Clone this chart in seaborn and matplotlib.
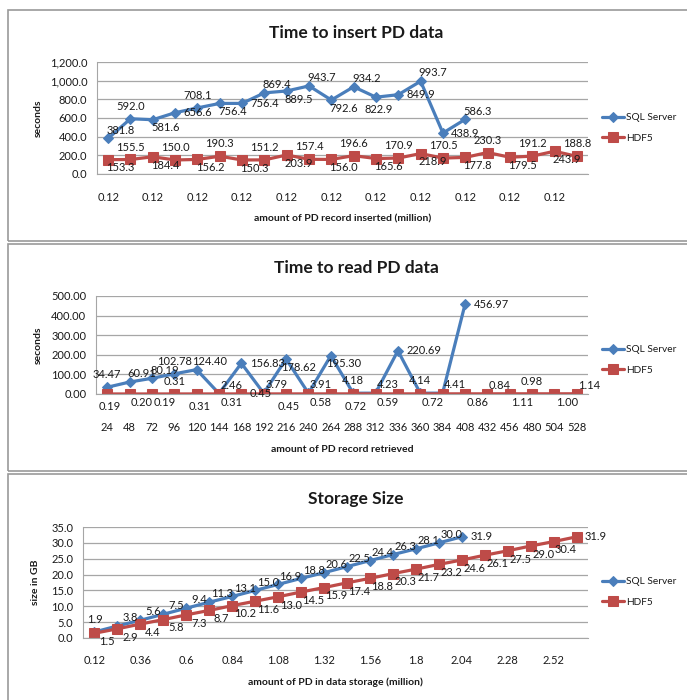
import pandas as pd
import seaborn as sns
import matplotlib.pyplot as plt
from matplotlib.patches import Rectangle
from matplotlib.ticker import FuncFormatter

# ---- data ----
insert_sql = [381.8, 592.0, 581.6, 656.6, 708.1, 756.4, 756.4, 869.4, 889.5, 943.7,
              792.6, 934.2, 822.9, 849.9, 993.7, 438.9, 586.3]
insert_hdf5 = [153.3, 155.5, 184.4, 150.0, 156.2, 190.3, 150.3, 151.2, 203.9, 157.4, 156.0,
               196.6, 165.6, 170.9, 218.9, 170.5, 177.8, 230.3, 179.5, 191.2, 243.9, 188.8]
insert_ticks = ["0.12"] * 11

read_sql = [34.47, 60.91, 80.19, 102.78, 124.40, 2.46, 156.83, 3.79, 178.62, 3.91,
            195.30, 4.18, 4.23, 220.69, 4.14, 4.41, 456.97]
read_hdf5 = [0.19, 0.20, 0.19, 0.31, 0.31, 0.31, 0.45, 0.45, 0.45, 0.58, 0.58,
             0.72, 0.59, 0.65, 0.72, 0.80, 0.86, 0.84, 1.11, 0.98, 1.00, 1.14]
read_ticks = ["24", "48", "72", "96", "120", "144", "168", "192", "216", "240", "264",
              "288", "312", "336", "360", "384", "408", "432", "456", "480", "504", "528"]

storage_sql = [1.9, 3.8, 5.6, 7.5, 9.4, 11.3, 13.1, 15.0, 16.9, 18.8, 20.6, 22.5,
               24.4, 26.3, 28.1, 30.0, 31.9]
storage_hdf5 = [1.5, 2.9, 4.4, 5.8, 7.3, 8.7, 10.2, 11.6, 13.0, 14.5, 15.9, 17.4,
                18.8, 20.3, 21.7, 23.2, 24.6, 26.1, 27.5, 29.0, 30.4, 31.9]
storage_ticks = ["0.12", "0.36", "0.6", "0.84", "1.08", "1.32", "1.56", "1.8",
                 "2.04", "2.28", "2.52"]

# label placement codes (a=above, ar=above right, b=below, br=below right, r=right, n=none)
insert_sql_pos = ["ar", "a", "br", "r", "a", "br", "r", "ar", "br", "ar", "br", "ar",
                  "b", "r", "ar", "r", "ar"]
insert_hdf5_pos = ["br", "a"] * 11
read_sql_pos = ["a", "ar", "ar", "a", "ar", "ar", "r", "ar", "br", "ar", "br", "a",
                "ar", "r", "a", "ar", "r"]
read_hdf5_pos = ["b", "br", "br", "a", "b", "br", "r", "n", "b", "br", "n", "b", "br",
                 "n", "br", "n", "br", "ar", "br", "a", "br", "ar"]
storage_sql_pos = ["a"] + ["ar"] * 15 + ["r"]
storage_hdf5_pos = ["br"] * 21 + ["r"]

BLUE = "#4A7EBB"
RED = "#BE4B48"
GRID = "#A6A6A6"
W, H = 687, 700

sns.set_style("white")
plt.rcParams["font.family"] = ["Lato", "DejaVu Sans"]
plt.rcParams["text.color"] = "#1a1a1a"

fig = plt.figure(figsize=(W / 100, H / 100), dpi=100)


def fx(x):
    return x / W


def fy(y):
    return 1 - y / H


OFFS = {
    "a": (0, 5, "center", "bottom"),
    "ar": (9, 2, "center", "bottom"),
    "b": (2, -5, "center", "top"),
    "br": (9, -2, "center", "top"),
    "r": (6, 0, "left", "center"),
}


def label_points(ax, values, places, fmt):
    for i, (v, p) in enumerate(zip(values, places)):
        if p == "n":
            continue
        dx, dy, ha, va = OFFS[p]
        ax.annotate(fmt.format(v), (i, v), xytext=(dx, dy), textcoords="offset points",
                    ha=ha, va=va, fontsize=8, color="#1a1a1a")


def panel(box, rect, title, title_y, xlab, xlab_y, ylab, ylab_x,
          sql, hdf5, sql_pos, hdf5_pos, ymax, ystep, yfmt, lab_fmt,
          ticks, tick_step, tick_pad, legend_y):
    bx0, by0, by1 = box
    fig.patches.append(Rectangle((fx(bx0), fy(by1)), 1.2, (by1 - by0) / H,
                                 transform=fig.transFigure, fill=False,
                                 edgecolor="#9a9a9a", linewidth=1.2))
    l, t, r, b = rect
    ax = fig.add_axes([fx(l), fy(b), (r - l) / W, (b - t) / H])

    df_sql = pd.DataFrame({"x": range(len(sql)), "y": sql})
    df_hdf = pd.DataFrame({"x": range(len(hdf5)), "y": hdf5})
    sns.lineplot(data=df_sql, x="x", y="y", ax=ax, color=BLUE, linewidth=2.3,
                 marker="D", markersize=5, markeredgecolor=BLUE, label="SQL Server")
    sns.lineplot(data=df_hdf, x="x", y="y", ax=ax, color=RED, linewidth=2.3,
                 marker="s", markersize=7, markeredgecolor=RED, label="HDF5")

    label_points(ax, sql, sql_pos, lab_fmt)
    label_points(ax, hdf5, hdf5_pos, lab_fmt)

    ax.set_xlim(-0.5, len(hdf5) - 0.5)
    ax.set_ylim(0, ymax)
    ax.set_yticks([ystep * k for k in range(int(round(ymax / ystep)) + 1)])
    ax.yaxis.set_major_formatter(FuncFormatter(lambda v, _: yfmt.format(v)))
    ax.set_xticks(range(0, len(hdf5), tick_step)[:len(ticks)])
    ax.set_xticklabels(ticks)
    ax.tick_params(axis="x", length=0, pad=tick_pad, labelsize=8, labelcolor="#1a1a1a")
    ax.tick_params(axis="y", length=4, width=0.8, color=GRID, pad=3, labelsize=8,
                   labelcolor="#1a1a1a")
    ax.yaxis.grid(True, color=GRID, linewidth=0.9)
    ax.set_axisbelow(True)
    for s in ["top", "right"]:
        ax.spines[s].set_visible(False)
    ax.spines["left"].set_color(GRID)
    ax.spines["bottom"].set_color(GRID)
    ax.set_xlabel("")
    ax.set_ylabel("")

    fig.text(fx(356), fy(title_y), title, ha="center", va="center",
             fontsize=12.5, fontweight="bold")
    fig.text(fx((l + r) / 2), fy(xlab_y), xlab, ha="center", va="center",
             fontsize=7.5, fontweight="bold")
    fig.text(fx(ylab_x), fy((t + b) / 2), ylab, ha="center", va="center",
             rotation=90, fontsize=7.5, fontweight="bold")

    ax.legend(loc="center left", bbox_to_anchor=(fx(598), fy(legend_y)),
              bbox_transform=fig.transFigure, frameon=False, fontsize=7.3,
              handlelength=2.2, handletextpad=0.2, labelspacing=1.1,
              borderaxespad=0)
    return ax


panel((8, 10, 241), (97, 62, 588, 174), "Time to insert PD data", 33,
      "amount of PD record inserted (million)", 219, "seconds", 38,
      insert_sql, insert_hdf5, insert_sql_pos, insert_hdf5_pos,
      1200, 200, "{:,.1f}", "{:.1f}", insert_ticks, 2, 13, 128)

panel((8, 244, 471), (96, 296, 588, 394), "Time to read PD data", 268,
      "amount of PD record retrieved", 449, "seconds", 38,
      read_sql, read_hdf5, read_sql_pos, read_hdf5_pos,
      500, 100, "{:.2f}", "{:.2f}", read_ticks, 1, 20, 360)

panel((8, 474, 702), (83, 527, 588, 638), "Storage Size", 499,
      "amount of PD in data storage (million)", 682, "size in GB", 36,
      storage_sql, storage_hdf5, storage_sql_pos, storage_hdf5_pos,
      35, 5, "{:.1f}", "{:.1f}", storage_ticks, 2, 12, 592)

fig.savefig("out.png", dpi=100)
